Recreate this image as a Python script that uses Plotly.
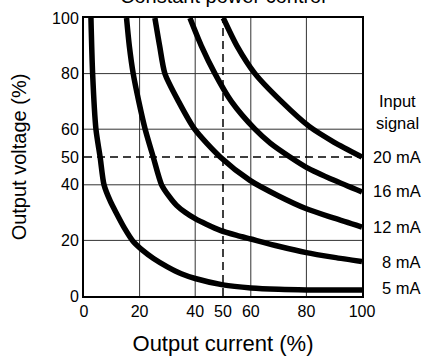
import plotly.graph_objects as go

# Curve data (output current %, output voltage %)
labels = ["5 mA", "8 mA", "12 mA", "16 mA", "20 mA"]

x_5mA = [2.5, 3.1, 4.3, 5.8, 7.2, 9.5, 11.8, 14.5, 17.7, 21, 25, 30, 35, 40, 50, 60, 70, 80, 90, 100]
y_5mA = [100, 80, 60, 50, 40, 34, 29.5, 24.5, 19.6, 16.5, 13.5, 10.5, 8.0, 6.3, 4.0, 2.9, 2.4, 2.2, 2.2, 2.2]

x_8mA = [15.3, 16.3, 17.7, 19.7, 22, 24.9, 27.9, 30.5, 33.3, 36.5, 40, 44, 49, 55, 60, 70, 80, 90, 100]
y_8mA = [100, 90, 80, 70, 60, 50, 40, 36, 32.6, 30, 27.8, 25.8, 23.6, 21.8, 20.5, 17.9, 15.6, 13.9, 12.4]

x_12mA = [25.5, 27.2, 29.1, 34.0, 39.8, 49, 59.7, 70, 80, 90, 100]
y_12mA = [100, 90, 80, 70, 60, 50, 41.6, 36.0, 31.4, 28.0, 24.8]

x_16mA = [38.1, 42.2, 47.1, 53, 61.5, 67, 74.1, 80, 90, 100]
y_16mA = [100, 90, 80, 70, 60, 55, 50, 46.3, 41.6, 37.4]

x_20mA = [50.1, 55, 61.5, 71, 81, 90, 100]
y_20mA = [100, 90, 80, 70, 61, 55.3, 50]

series_x = [x_5mA, x_8mA, x_12mA, x_16mA, x_20mA]
series_y = [y_5mA, y_8mA, y_12mA, y_16mA, y_20mA]
label_y = [2.9, 12.4, 25, 37.8, 50]

x_ticks = [0, 20, 40, 50, 60, 80, 100]
y_ticks = [0, 20, 40, 50, 60, 80, 100]
grid_vals = [20, 40, 60, 80]
ref_x = 50
ref_y = 50

FONT = "Liberation Sans, Arial, sans-serif"

fig = go.Figure()

# grid lines
for g in grid_vals:
    fig.add_shape(type="line", xref="x", yref="y", x0=g, x1=g, y0=0, y1=100,
                  line=dict(color="#333333", width=1), layer="below")
    fig.add_shape(type="line", xref="x", yref="y", x0=0, x1=100, y0=g, y1=g,
                  line=dict(color="#333333", width=1), layer="below")
# dashed reference lines
fig.add_shape(type="line", xref="x", yref="y", x0=ref_x, x1=ref_x, y0=0, y1=100,
              line=dict(color="black", width=1.5, dash="8px,5px"), layer="below")
fig.add_shape(type="line", xref="x", yref="y", x0=0, x1=100, y0=ref_y, y1=ref_y,
              line=dict(color="black", width=1.5, dash="8px,5px"), layer="below")

for xs, ys, name in zip(series_x, series_y, labels):
    fig.add_trace(go.Scatter(x=xs, y=ys, mode="lines", name=name,
                             line=dict(color="black", width=5.5, shape="spline", smoothing=0.7),
                             showlegend=False, hoverinfo="skip"))

# right-hand labels
for name, ly in zip(labels, label_y):
    fig.add_annotation(x=1.2195, xref="paper", y=ly, yref="y", text=name,
                       showarrow=False, xanchor="right", yanchor="middle",
                       font=dict(family=FONT, size=16.5, color="black"))
fig.add_annotation(x=1.126, xref="paper", y=70.3, yref="y", text="Input",
                   showarrow=False, xanchor="center", yanchor="middle",
                   font=dict(family=FONT, size=16.5, color="black"))
fig.add_annotation(x=1.126, xref="paper", y=62.3, yref="y", text="signal",
                   showarrow=False, xanchor="center", yanchor="middle",
                   font=dict(family=FONT, size=16.5, color="black"))

# clipped title at top (as in the reference, only its lower part is visible)
fig.add_annotation(x=0.5, xref="paper", y=1.0, yref="paper", yshift=9,
                   text="Constant power control", showarrow=False,
                   xanchor="center", yanchor="bottom",
                   font=dict(family=FONT, size=20, color="black"))

axis_common = dict(showgrid=False, zeroline=False, showline=True, linecolor="black",
                   linewidth=2, mirror=True, ticks="", range=[0, 100], automargin=False,
                   tickfont=dict(family=FONT, size=16, color="black"))

fig.update_layout(
    width=425, height=358,
    margin=dict(l=84, r=63, t=18, b=62),
    paper_bgcolor="white", plot_bgcolor="white",
    font=dict(family=FONT, color="black"),
    xaxis=dict(**axis_common, tickvals=x_ticks,
               title=dict(text="Output current (%)", font=dict(family=FONT, size=22), standoff=16)),
    yaxis=dict(**axis_common, tickvals=y_ticks,
               title=dict(text="Output voltage (%)", font=dict(family=FONT, size=20), standoff=20)),
)

fig.write_html("out.html",
               config={"displayModeBar": False, "staticPlot": True},
               post_script="document.body.style.margin='0';document.body.style.overflow='hidden';")
